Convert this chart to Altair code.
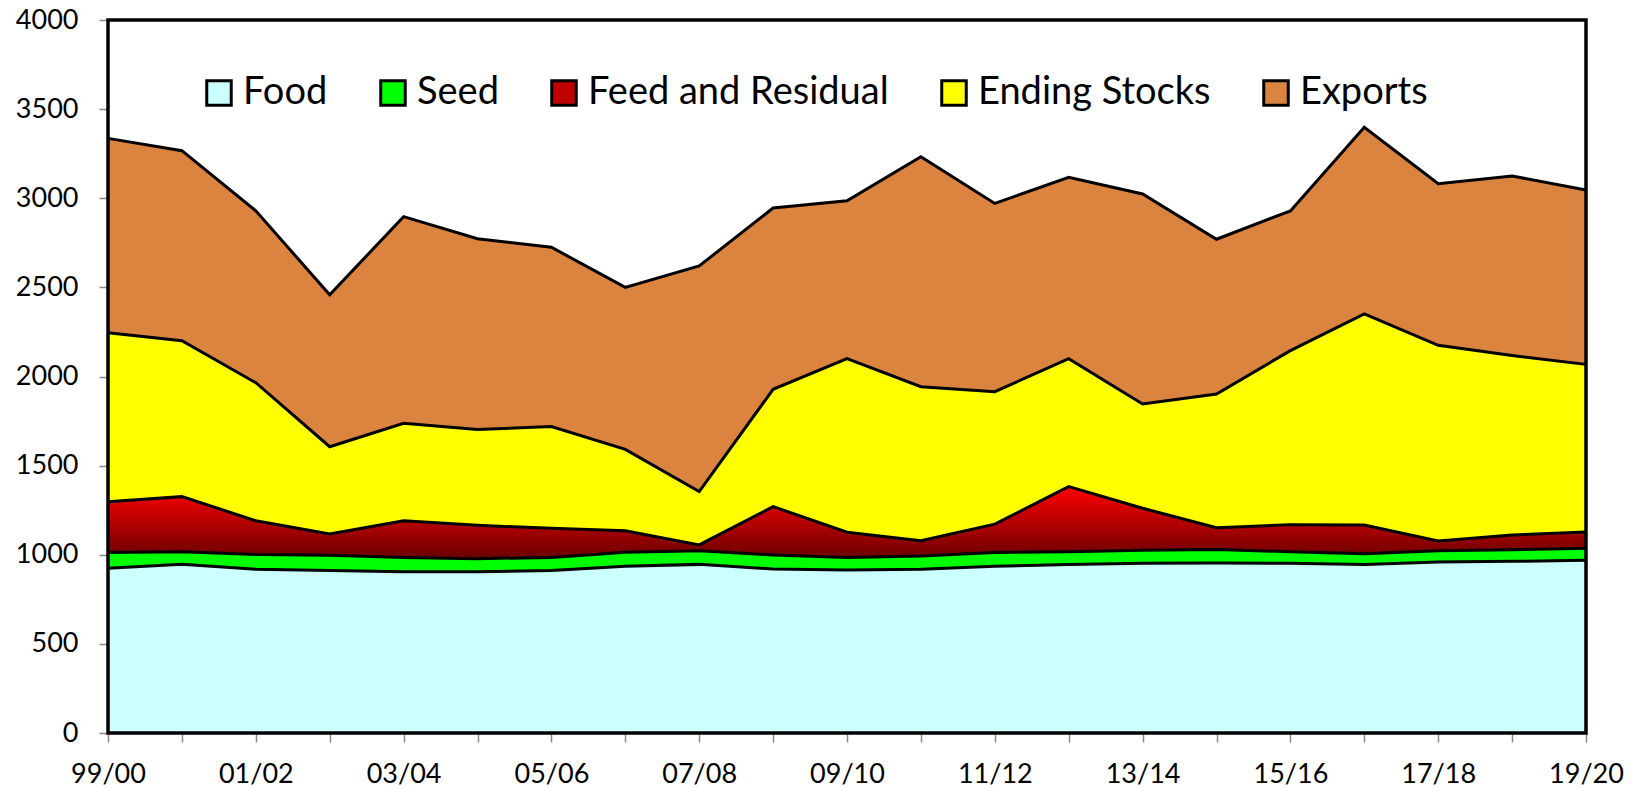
import altair as alt
import pandas as pd

years = ["99/00", "00/01", "01/02", "02/03", "03/04", "04/05", "05/06", "06/07",
         "07/08", "08/09", "09/10", "10/11", "11/12", "12/13", "13/14", "14/15",
         "15/16", "16/17", "17/18", "18/19", "19/20"]
series_names = ["Food", "Seed", "Feed and Residual", "Ending Stocks", "Exports"]

food = [924, 946, 918, 911, 905, 905, 911, 935, 946, 920, 914, 918, 935, 945,
        952, 954, 952, 946, 959, 963, 969]
seed = [88, 71, 84, 86, 79, 73, 74, 79, 77, 79, 70, 75, 77, 72, 73, 76, 65, 60,
        64, 65, 67]
feed = [286, 309, 189, 119, 207, 187, 163, 121, 32, 271, 142, 86, 160, 365, 236,
        122, 152, 161, 54, 83, 92]
ending_stocks = [948, 875, 774, 490, 546, 537, 571, 456, 299, 658, 974, 864, 743,
                 718, 585, 750, 976, 1184, 1098, 1007, 940]
exports = [1090, 1066, 965, 852, 1160, 1071, 1006, 909, 1266, 1017, 886, 1290,
           1056, 1017, 1178, 868, 784, 1047, 907, 1007, 978]

y_ticks = [0, 500, 1000, 1500, 2000, 2500, 3000, 3500, 4000]
shown_x_labels = years[::2]

colors = ["#CCFFFF", "#00FF00", "#C00000", "#FFFF00", "#DB843F"]
stroke_widths = [3.0, 3.0, 2.8, 2.0, 1.8]

all_vals = [food, seed, feed, ending_stocks, exports]
rows = []
for k, (name, vals) in enumerate(zip(series_names, all_vals)):
    for y, v in zip(years, vals):
        rows.append({"year": y, "series": name, "k": k, "value": v})
df = pd.DataFrame(rows)

W, H = 1478, 713
FONT = "Lato"

feed_grad = alt.Gradient(
    gradient="linear",
    stops=[alt.GradientStop(color="#FF0000", offset=0),
           alt.GradientStop(color="#6A0000", offset=1)],
    x1=0, x2=0, y1=0, y2=1,
)

x_enc = alt.X(
    "year:O", sort=years,
    scale=alt.Scale(type="point", padding=0),
    axis=alt.Axis(
        title=None, labelAngle=0, domain=False, grid=False,
        labelExpr="indexof(" + str(shown_x_labels) + ", datum.value) >= 0 ? datum.value : ''",
        labelFont=FONT, labelFontSize=27, labelColor="black",
        tickColor="#888888", tickSize=9, tickWidth=1.5, labelPadding=19,
    ),
)
y_scale = alt.Scale(domain=[0, 4000], nice=False, zero=True)
y_axis = alt.Axis(
    title=None, values=y_ticks, domain=False, grid=False, format="d",
    labelFont=FONT, labelFontSize=27, labelColor="black",
    tickColor="#888888", tickSize=9, tickWidth=1.5, labelPadding=21,
)

base = alt.Chart(df).transform_stack(
    stack="value", groupby=["year"], as_=["y0", "y1"],
    sort=[alt.SortField("k", order="ascending")],
)

areas = base.mark_area(opacity=1, strokeWidth=0).encode(
    x=x_enc,
    y=alt.Y("y0:Q", scale=y_scale, axis=y_axis),
    y2="y1:Q",
    color=alt.Color(
        "series:N",
        scale=alt.Scale(domain=series_names, range=colors),
        legend=alt.Legend(
            orient="none", legendX=92, legendY=54, direction="horizontal",
            columns=5, title=None, symbolType="square", symbolSize=600,
            symbolStrokeColor="black", symbolStrokeWidth=1.5, symbolOpacity=1,
            labelFont=FONT, labelFontSize=38, labelColor="black",
            labelOffset=5, columnPadding=46, padding=0, labelLimit=0,
        ),
    ),
    order=alt.Order("k:Q"),
)

feed_layer = base.transform_filter(
    alt.datum.series == "Feed and Residual"
).mark_area(color=feed_grad, opacity=1, strokeWidth=0).encode(
    x=x_enc,
    y=alt.Y("y0:Q", scale=y_scale),
    y2="y1:Q",
)

lines = base.mark_line(color="black", strokeJoin="miter").encode(
    x=x_enc,
    y=alt.Y("y1:Q", scale=y_scale),
    detail="series:N",
    strokeWidth=alt.StrokeWidth(
        "series:N",
        scale=alt.Scale(domain=series_names, range=stroke_widths),
        legend=None,
    ),
)

frame = alt.Chart(alt.Data(values=[{}])).mark_rect(
    filled=False, stroke="black", strokeWidth=3.5
).encode(
    x=alt.value(0), x2=alt.value(W), y=alt.value(0), y2=alt.value(H)
)

chart = alt.layer(areas, feed_layer, lines, frame).properties(
    width=W, height=H,
    padding={"left": 100, "top": 12, "right": 45, "bottom": 56},
    autosize=alt.AutoSizeParams(type="none"),
    background="white",
).configure_view(stroke=None)

chart.save("out.html", embed_options={"renderer": "svg", "actions": False})
